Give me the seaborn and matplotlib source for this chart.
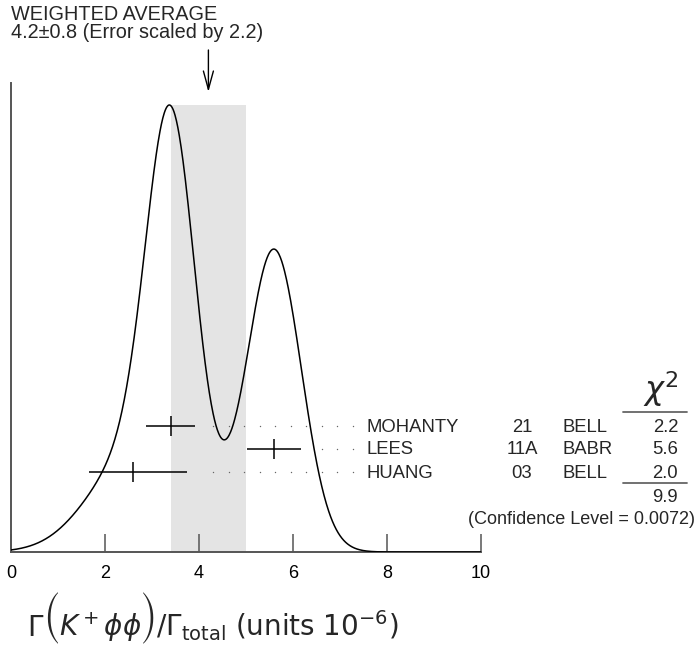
import os
import numpy as np
import pandas as pd
import matplotlib
matplotlib.use("Agg")
import matplotlib.pyplot as plt
import matplotlib.transforms as mtransforms
from matplotlib.font_manager import FontProperties
import seaborn as sns

# ---------------- data ----------------
names = ["MOHANTY", "LEES", "HUANG"]
years = ["21", "11A", "03"]
labs = ["BELL", "BABR", "BELL"]
values = [3.4, 5.6, 2.6]
err_lo = [0.52, 0.58, 0.94]
err_hi = [0.52, 0.58, 1.14]
chi2 = ["2.2", "5.6", "2.0"]
chi2_total = "9.9"
conf_level = "0.0072"
avg_value = 4.2
avg_error = 0.8
scale_factor = 2.2
xticks = [0, 2, 4, 6, 8, 10]

sns.set_theme(style="white")
plt.rcParams["font.family"] = ["Liberation Sans", "DejaVu Sans"]
plt.rcParams["mathtext.fontset"] = "dejavusans"

W, H = 696, 649
fig = plt.figure(figsize=(W / 100, H / 100), dpi=100)

def fx(px):
    return px / W

def fy(py):
    return 1 - py / H

ax = fig.add_axes([fx(11), fy(552), 470 / W, 469 / H])

# ideogram: each measurement a Gaussian with area proportional to 1/sigma
grid = np.linspace(0, 10, 1001)
ideo = np.zeros_like(grid)
for v, lo, hi in zip(values, err_lo, err_hi):
    s = np.where(grid < v, lo, hi)
    amp = 1.0 / ((lo + hi) / 2) ** 2
    ideo += amp * np.exp(-0.5 * ((grid - v) / s) ** 2)
df = pd.DataFrame({"x": grid, "y": ideo})
peak = ideo.max()

ax.set_xlim(0, 10)
ax.set_ylim(0, peak / (447 / 469))

# weighted-average band
ax.fill_between([avg_value - avg_error, avg_value + avg_error], 0, peak,
                color="#e4e4e4", linewidth=0, zorder=0)

sns.lineplot(data=df, x="x", y="y", ax=ax, color="black", linewidth=1.1, zorder=3)

# measurements
trans = mtransforms.blended_transform_factory(ax.transData, ax.transAxes)
row_px = [426, 449, 472]
for i, (v, lo, hi) in enumerate(zip(values, err_lo, err_hi)):
    yfrac = (552 - row_px[i]) / 469
    ax.errorbar([v], [yfrac], xerr=[[lo], [hi]], fmt="|", color="black",
                markersize=15, markeredgewidth=1.1, elinewidth=1.1,
                capsize=0, transform=trans, zorder=4)
    # dotted leader
    dots_px = 213 + 15.5 * np.arange(10)
    hi_px = 11 + (v + hi) * 47
    dots_px = dots_px[dots_px > hi_px + 10]
    dots_x = (dots_px - 11) / 47
    ax.plot(dots_x, [yfrac] * len(dots_x), linestyle="none", marker="o",
            markersize=1.0, markeredgewidth=0, color="#666666", transform=trans,
            clip_on=False)

# axes styling
for side in ["top", "right"]:
    ax.spines[side].set_visible(False)
for side in ["left", "bottom"]:
    ax.spines[side].set_color("#555555")
    ax.spines[side].set_linewidth(1.4)
ax.set_xticks(xticks)
ax.set_xticklabels([str(t) for t in xticks])
ax.set_yticks([])
ax.tick_params(axis="x", direction="in", length=13, width=1.1, color="#555555",
               pad=9, labelsize=13, labelcolor="black", bottom=True)
ax.set_xlabel("")
ax.set_ylabel("")

# texts
fs = 13
fig.text(fx(11), fy(14), "WEIGHTED AVERAGE", fontsize=14.3, va="center", ha="left")
fig.text(fx(11), fy(33), f"{avg_value}\u00b1{avg_error} (Error scaled by {scale_factor})",
         fontsize=14.3, va="center", ha="left")
ax.annotate("", xy=(avg_value, fy(92)), xytext=(avg_value, fy(50)),
            xycoords=("data", "figure fraction"), textcoords=("data", "figure fraction"),
            arrowprops=dict(arrowstyle="->,head_length=1.1,head_width=0.3",
                            color="black", lw=1.0, shrinkA=0, shrinkB=0))

for i in range(3):
    y = fy(row_px[i] + 1)
    fig.text(fx(366), y, names[i], fontsize=13.3, va="center", ha="left")
    fig.text(fx(522), y, years[i], fontsize=13.3, va="center", ha="center")
    fig.text(fx(563), y, labs[i], fontsize=13.3, va="center", ha="left")
    fig.text(fx(678), y, chi2[i], fontsize=13.3, va="center", ha="right")

fig.text(fx(661), fy(389), r"$\chi^2$", fontsize=23, va="center", ha="center",
         family="DejaVu Sans")
fig.add_artist(plt.Line2D([fx(623), fx(687)], [fy(412), fy(412)], color="#666666", lw=1.3))
fig.add_artist(plt.Line2D([fx(623), fx(687)], [fy(483), fy(483)], color="#666666", lw=1.3))
fig.text(fx(678), fy(497), chi2_total, fontsize=13.3, va="center", ha="right")
fig.text(fx(695), fy(520), f"(Confidence Level = {conf_level})", fontsize=fs,
         va="center", ha="right")

# x label built from pieces so the parentheses can be large
lfs = 20
big_path = os.path.join(matplotlib.get_data_path(), "fonts", "ttf", "STIXSizTwoSymReg.ttf")
big_fp = FontProperties(fname=big_path, size=lfs) if os.path.exists(big_path) else FontProperties(family="DejaVu Sans", size=lfs * 1.8)
renderer = fig.canvas.get_renderer()
pieces = [
    (r"$\Gamma$", None, -1),
    ("(", big_fp, -1),
    (r"$K^+\phi\phi$", None, -1),
    (")", big_fp, -1),
    (r"$/\Gamma_{\mathrm{total}}$ (units $10^{-6}$)", None, 0),
]
xpos = 27
base_y = fy(636)
for txt, fp, gap in pieces:
    if fp is None:
        t = fig.text(fx(xpos), base_y, txt, fontsize=lfs, family="DejaVu Sans",
                     va="baseline", ha="left")
    else:
        t = fig.text(fx(xpos), base_y, txt, fontproperties=fp, va="baseline", ha="left")
    bb = t.get_window_extent(renderer)
    xpos = bb.x1 + gap

fig.savefig("out.png", dpi=100)
